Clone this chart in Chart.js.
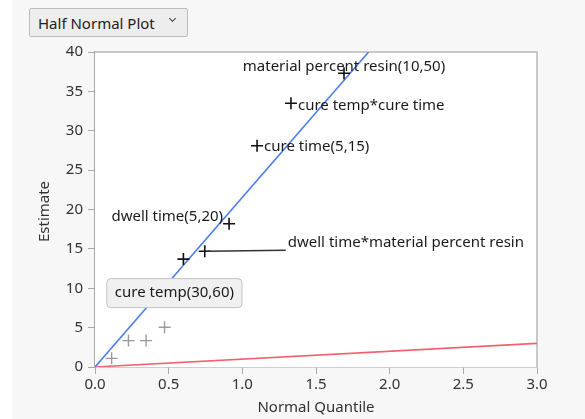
<!DOCTYPE html>
<html>
<head>
<meta charset="utf-8">
<script src="https://cdn.jsdelivr.net/npm/chart.js@4"></script>
<style>
  html, body { margin:0; padding:0; background:#fff; }
  .wrap { position:relative; width:585px; height:419px; overflow:hidden; }
  .panel { position:absolute; left:12px; top:0; right:0; bottom:0; background:#f7f7f7; }
  canvas { position:absolute; left:0; top:0; }
  .btn { position:absolute; left:29px; top:8px; width:159px; height:29px; background:#ededed; border:1px solid #bcbcbc; border-radius:2px;
         font:15px "Noto Sans", sans-serif; color:#222; box-sizing:border-box; }
  .btn .t { position:absolute; left:8px; top:4px; }
  .btn .chev { position:absolute; left:140px; top:7px; width:4px; height:4px; border-right:1.3px solid #444; border-bottom:1.3px solid #444; transform:rotate(45deg); }
</style>
</head>
<body>
<div class="wrap">
  <div class="panel"></div>
  <canvas id="c" width="585" height="419"></canvas>
  <div class="btn"><span class="t">Half Normal Plot</span><span class="chev"></span></div>
</div>
<script>
// effects shown in the half normal plot
const effectNames = ['material percent resin(10,50)', 'cure temp*cure time', 'cure time(5,15)', 'dwell time(5,20)', 'dwell time*material percent resin', 'cure temp(30,60)'];
const effectQuantile = [1.69, 1.33, 1.10, 0.91, 0.745, 0.60];
const effectEstimate = [37.3, 33.5, 28.1, 18.2, 14.7, 13.7];
// small (not labelled) effects
const minorQuantile = [0.113, 0.227, 0.347, 0.472];
const minorEstimate = [1.1, 3.35, 3.35, 5.05];
// reference lines
const blueLineX = [0, 1.857];
const blueLineY = [0, 40];
const redLineX = [0, 3.0];
const redLineY = [0, 3.0];
const xTicks = [0, 0.5, 1.0, 1.5, 2.0, 2.5, 3.0];
const yTicks = [0, 5, 10, 15, 20, 25, 30, 35, 40];

const FONT = '"Noto Sans", sans-serif';
const toPts = (xs, ys) => xs.map((x,i)=>({x:x, y:ys[i]}));

// how each label sits relative to its point (pixels)
const labelStyle = [
  {dx:0, dy:-7, align:'center'},
  {dx:7, dy:3, align:'left'},
  {dx:7, dy:1, align:'left'},
  {dx:-6, dy:-7, align:'right'},
  {dx:83, dy:-9, align:'left', leader:true},
  {dx:-9, dy:34, align:'center', box:true}
];

const plotDeco = {
  id:'plotDeco',
  beforeDatasetsDraw(chart){
    const {ctx, chartArea:a} = chart;
    ctx.save();
    ctx.fillStyle = '#fff';
    ctx.fillRect(a.left, a.top, a.right-a.left, a.bottom-a.top);
    ctx.strokeStyle = '#c9c9c9'; ctx.lineWidth = 2;
    ctx.beginPath(); ctx.moveTo(a.left, a.top); ctx.lineTo(a.right, a.top); ctx.lineTo(a.right, a.bottom); ctx.stroke();
    ctx.restore();
  },
  afterDatasetsDraw(chart){
    const {ctx} = chart;
    const xs = chart.scales.x, ys = chart.scales.y;
    ctx.save();
    ctx.font = '15px ' + FONT;
    ctx.textBaseline = 'middle';
    effectNames.forEach((name,i)=>{
      const px = xs.getPixelForValue(effectQuantile[i]);
      const py = ys.getPixelForValue(effectEstimate[i]);
      const s = labelStyle[i];
      const tx = px + s.dx, ty = py + s.dy;
      if(s.leader){
        ctx.strokeStyle = '#333'; ctx.lineWidth = 1.5;
        ctx.beginPath(); ctx.moveTo(px+2, py); ctx.lineTo(tx-2, ty+8); ctx.stroke();
      }
      if(s.box){
        const w = ctx.measureText(name).width + 16, h = 29;
        ctx.fillStyle = '#f0f0f0'; ctx.strokeStyle = '#c4c4c4'; ctx.lineWidth = 1;
        ctx.beginPath(); ctx.roundRect(tx - w/2, ty - h/2, w, h, 4); ctx.fill(); ctx.stroke();
      }
      ctx.fillStyle = '#1a1a1a';
      ctx.textAlign = s.align;
      ctx.fillText(name, tx, ty);
    });
    // axis titles
    ctx.fillStyle = '#333';
    ctx.font = '15px ' + FONT;
    ctx.textAlign = 'center';
    ctx.fillText('Normal Quantile', (xs.left+xs.right)/2, 408);
    ctx.translate(45, (ys.top+ys.bottom)/2 + 2);
    ctx.rotate(-Math.PI/2);
    ctx.fillText('Estimate', 0, 0);
    ctx.restore();
  }
};

new Chart(document.getElementById('c'), {
  type:'scatter',
  data:{
    datasets:[
      { data:toPts(blueLineX, blueLineY), showLine:true, borderColor:'#4d7ef2', borderWidth:1.6, pointRadius:0, order:3 },
      { data:toPts(redLineX, redLineY), showLine:true, borderColor:'#f2606e', borderWidth:1.6, pointRadius:0, order:3 },
      { data:toPts(minorQuantile, minorEstimate), pointStyle:'cross', pointRadius:6, borderColor:'#9a9a9a', borderWidth:1.4, order:2 },
      { data:toPts(effectQuantile, effectEstimate), pointStyle:'cross', pointRadius:6, borderColor:'#111', borderWidth:1.6, order:1 }
    ]
  },
  options:{
    responsive:false, animation:false,
    layout:{ padding:{ left:0, top:52, right:48, bottom:0 } },
    plugins:{ legend:{display:false}, tooltip:{enabled:false} },
    scales:{
      x:{
        type:'linear', min:0, max:3,
        afterBuildTicks: s => { s.ticks = xTicks.map(v=>({value:v})); },
        afterFit: s => { s.height = 52; },
        grid:{ drawOnChartArea:false, drawTicks:true, tickLength:7, color:'#a8a8a8' },
        border:{ color:'#a8a8a8', width:1.5 },
        ticks:{ color:'#333', padding:2, font:{family:FONT, size:15}, callback: v => v.toFixed(1) }
      },
      y:{
        type:'linear', min:0, max:40,
        afterBuildTicks: s => { s.ticks = yTicks.map(v=>({value:v})); },
        afterFit: s => { s.width = 95; },
        grid:{ drawOnChartArea:false, drawTicks:true, tickLength:7, color:'#a8a8a8' },
        border:{ color:'#a8a8a8', width:1.5 },
        ticks:{ color:'#333', padding:5, font:{family:FONT, size:15} }
      }
    }
  },
  plugins:[plotDeco]
});
</script>
</body>
</html>
